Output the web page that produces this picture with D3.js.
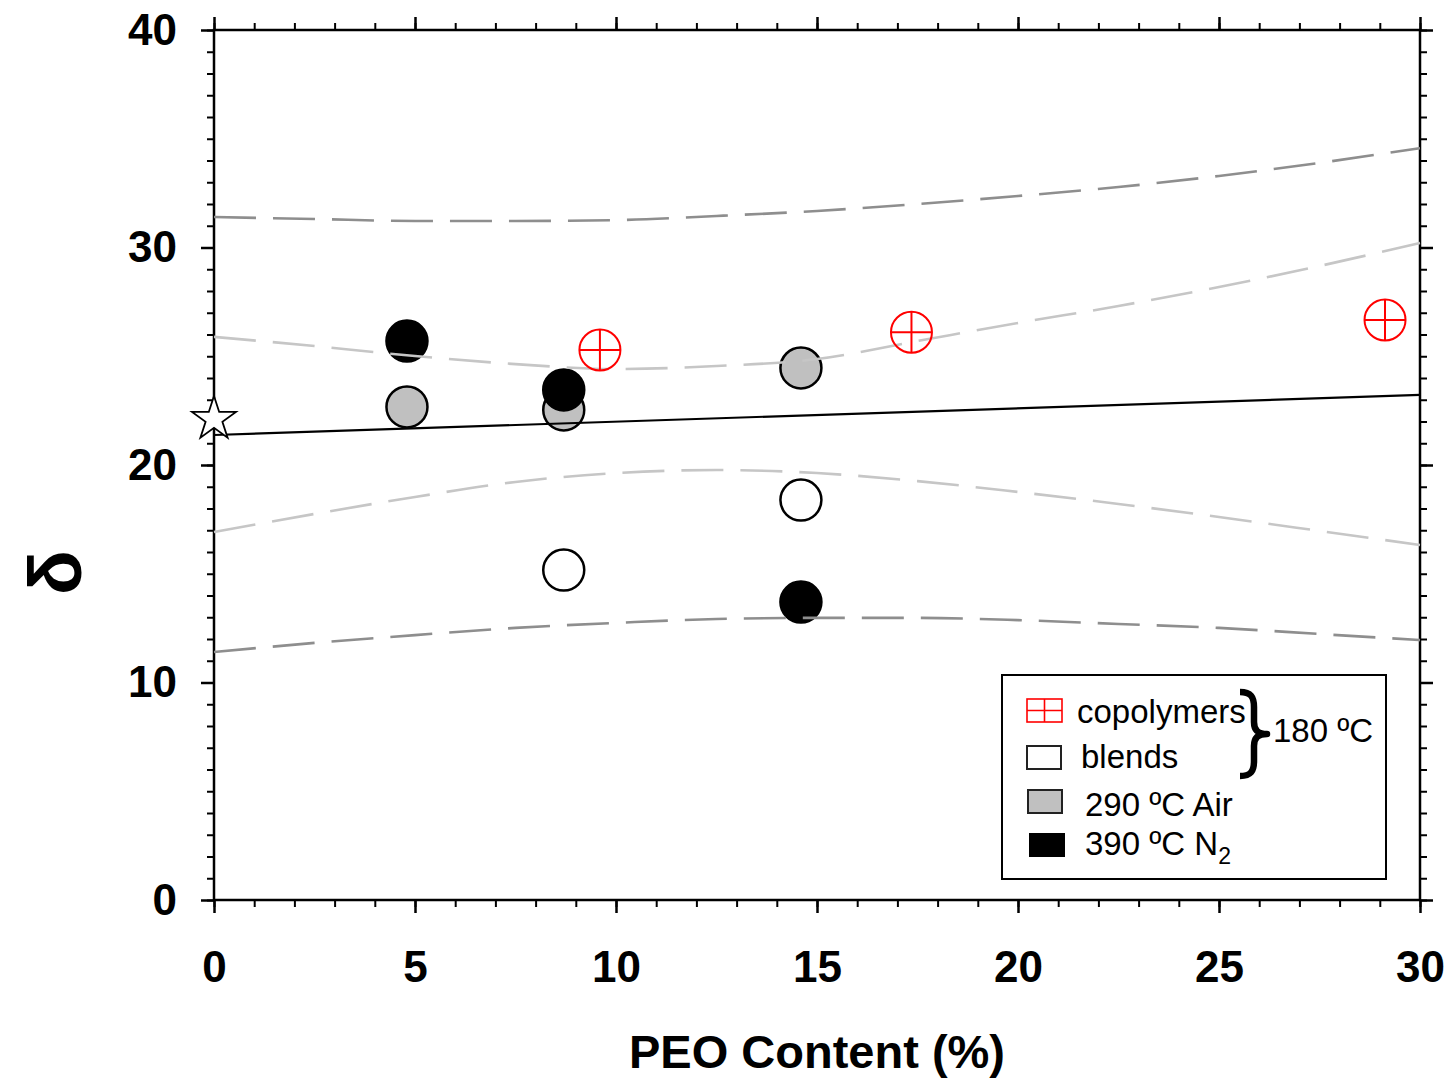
<!DOCTYPE html>
<html>
<head>
<meta charset="utf-8">
<script src="https://cdn.jsdelivr.net/npm/d3@7"></script>
<style>
  html, body { margin: 0; padding: 0; background: #fff; }
  svg { display: block; font-family: "Liberation Sans", Arial, sans-serif; }
</style>
</head>
<body>
<svg id="chart" width="1451" height="1078"></svg>
<script>
// Measured series (x = PEO content %, y = value)
const copolymers = [[9.6, 25.29], [17.35, 26.1], [29.13, 26.67]];
const blends = [[8.7, 15.17], [14.6, 18.39]];
const air290 = [[4.8, 22.67], [8.7, 22.53], [14.6, 24.46]];
const n2390 = [[4.8, 25.7], [8.7, 23.45], [14.6, 13.7]];
const neat = [[0, 22.25]];

// Linear fit and its bands
const fitLine = [[0, 21.38], [30, 23.22]];
const bandX = [0, 2.5, 5, 7.5, 10, 12.5, 15, 17.5, 20, 22.5, 25, 27.5, 30];
const confUpper = [25.89, 25.47, 25.01, 24.64, 24.41, 24.55, 24.87, 25.70, 26.53, 27.31, 28.18, 29.15, 30.21];
const confLower = [16.92, 17.75, 18.53, 19.22, 19.63, 19.77, 19.63, 19.26, 18.76, 18.21, 17.61, 16.97, 16.32];
const predUpper = [31.40, 31.31, 31.22, 31.22, 31.26, 31.45, 31.68, 32.00, 32.37, 32.78, 33.29, 33.89, 34.57];
const predLower = [11.40, 11.82, 12.18, 12.51, 12.74, 12.92, 12.97, 12.97, 12.87, 12.69, 12.51, 12.23, 11.95];

// Axis ticks
const xMajor = [0, 5, 10, 15, 20, 25, 30];
const xMinor = d3.range(0, 31, 1);
const yMajor = [0, 10, 20, 30, 40];
const yMinor = d3.range(0, 41, 1);

const svg = d3.select("#chart");
const x = d3.scaleLinear().domain([0, 30]).range([214, 1420]);
const y = d3.scaleLinear().domain([0, 40]).range([900, 30]);

// Axes: minor ticks, then major ticks with labels
function styleAxis(g, w) {
  g.selectAll(".domain").remove();
  g.selectAll(".tick line").attr("stroke", "#000").attr("stroke-width", w);
}
const labelFont = g => g.selectAll("text")
  .attr("fill", "#000").style("font-size", "44px").style("font-weight", "bold")
  .style("font-family", "'Liberation Sans', Arial, sans-serif");

svg.append("g").attr("transform", "translate(0,900)")
  .call(d3.axisBottom(x).tickValues(xMinor).tickSize(7).tickFormat(""))
  .call(g => styleAxis(g, 2));
svg.append("g").attr("transform", "translate(0,900)")
  .call(d3.axisBottom(x).tickValues(xMajor).tickSize(13).tickPadding(38).tickFormat(d3.format("d")))
  .call(g => styleAxis(g, 2.5)).call(labelFont);
svg.append("g").attr("transform", "translate(0,30)")
  .call(d3.axisTop(x).tickValues(xMinor).tickSize(7).tickFormat(""))
  .call(g => styleAxis(g, 2));
svg.append("g").attr("transform", "translate(0,30)")
  .call(d3.axisTop(x).tickValues(xMajor).tickSize(13).tickFormat(""))
  .call(g => styleAxis(g, 2.5));

svg.append("g").attr("transform", "translate(214,0)")
  .call(d3.axisLeft(y).tickValues(yMinor).tickSize(7).tickFormat(""))
  .call(g => styleAxis(g, 2));
svg.append("g").attr("transform", "translate(214,0)")
  .call(d3.axisLeft(y).tickValues(yMajor).tickSize(13).tickPadding(24).tickFormat(d3.format("d")))
  .call(g => styleAxis(g, 2.5)).call(labelFont);
svg.append("g").attr("transform", "translate(1420,0)")
  .call(d3.axisRight(y).tickValues(yMinor).tickSize(7).tickFormat(""))
  .call(g => styleAxis(g, 2));
svg.append("g").attr("transform", "translate(1420,0)")
  .call(d3.axisRight(y).tickValues(yMajor).tickSize(13).tickFormat(""))
  .call(g => styleAxis(g, 2.5));

// Plot frame
svg.append("rect")
  .attr("x", x(0)).attr("y", y(40))
  .attr("width", x(30) - x(0)).attr("height", y(0) - y(40))
  .attr("fill", "none").attr("stroke", "#000").attr("stroke-width", 2.5);

// Axis titles
svg.append("text")
  .attr("x", 817).attr("y", 1068).attr("text-anchor", "middle")
  .style("font-size", "47px").style("font-weight", "bold")
  .text("PEO Content (%)");

// Y title sits against the left edge and is cut by it
svg.append("defs").append("clipPath").attr("id", "ylabClip")
  .append("rect").attr("x", 18).attr("y", 0).attr("width", 200).attr("height", 1078);
svg.append("g").attr("clip-path", "url(#ylabClip)")
  .append("text")
  .attr("transform", "translate(81,595) rotate(-90)")
  .style("font-size", "74px").style("font-weight", "bold")
  .text("δ");

// Markers
const line = d3.line().x(d => x(d[0])).y(d => y(d[1]));
const curve = d3.line().x(d => x(d[0])).y(d => y(d[1])).curve(d3.curveMonotoneX);
const R = 20.5;

function circles(data, fill) {
  svg.append("g").selectAll("circle").data(data).join("circle")
    .attr("cx", d => x(d[0])).attr("cy", d => y(d[1])).attr("r", R)
    .attr("fill", fill).attr("stroke", "#000").attr("stroke-width", 2.5);
}
circles(air290, "#c0c0c0");
circles(blends, "#ffffff");
circles(n2390, "#000000");

// Bands
function band(vals, color) {
  svg.append("path")
    .datum(bandX.map((v, i) => [v, vals[i]]))
    .attr("d", curve).attr("fill", "none")
    .attr("stroke", color).attr("stroke-width", 2.6)
    .attr("stroke-dasharray", "42,17");
}
band(predUpper, "#8e8e8e");
band(predLower, "#8e8e8e");
band(confUpper, "#c6c6c6");
band(confLower, "#c6c6c6");

// Fit line
svg.append("path").datum(fitLine).attr("d", line)
  .attr("fill", "none").attr("stroke", "#000").attr("stroke-width", 2.2);

// Copolymer markers (circle with cross)
const cg = svg.append("g").selectAll("g").data(copolymers).join("g")
  .attr("transform", d => `translate(${x(d[0])},${y(d[1])})`);
cg.append("circle").attr("r", R).attr("fill", "none").attr("stroke", "#ff0000").attr("stroke-width", 2);
cg.append("line").attr("x1", -R).attr("x2", R).attr("stroke", "#ff0000").attr("stroke-width", 2);
cg.append("line").attr("y1", -R).attr("y2", R).attr("stroke", "#ff0000").attr("stroke-width", 2);

// Neat polymer (star)
const star = d3.symbol().type(d3.symbolStar).size(600);
svg.append("g").selectAll("path").data(neat).join("path")
  .attr("transform", d => `translate(${x(d[0])},${y(d[1]) + 3})`)
  .attr("d", star).attr("fill", "#fff").attr("stroke", "#000").attr("stroke-width", 1.8);

// Legend
const lg = svg.append("g");
lg.append("rect").attr("x", 1002).attr("y", 675).attr("width", 384).attr("height", 204)
  .attr("fill", "#fff").attr("stroke", "#000").attr("stroke-width", 2);

lg.append("rect").attr("x", 1027).attr("y", 699).attr("width", 35).attr("height", 23)
  .attr("fill", "#fff").attr("stroke", "#ff0000").attr("stroke-width", 1.6);
lg.append("line").attr("x1", 1044.5).attr("x2", 1044.5).attr("y1", 699).attr("y2", 722)
  .attr("stroke", "#ff0000").attr("stroke-width", 1.6);
lg.append("line").attr("x1", 1027).attr("x2", 1062).attr("y1", 710.5).attr("y2", 710.5)
  .attr("stroke", "#ff0000").attr("stroke-width", 1.6);
lg.append("rect").attr("x", 1027).attr("y", 746).attr("width", 34).attr("height", 23)
  .attr("fill", "#fff").attr("stroke", "#222").attr("stroke-width", 2);
lg.append("rect").attr("x", 1028).attr("y", 790).attr("width", 34).attr("height", 23)
  .attr("fill", "#c0c0c0").attr("stroke", "#222").attr("stroke-width", 2);
lg.append("rect").attr("x", 1029).attr("y", 833).attr("width", 36).attr("height", 24)
  .attr("fill", "#000");

const lt = (tx, ty, s) => lg.append("text").attr("x", tx).attr("y", ty)
  .style("font-size", "33px").text(s);
lt(1077, 723, "copolymers");
lt(1081, 768, "blends");
lt(1085, 816, "290 ºC Air");
const n2 = lt(1085, 855, "390 ºC N");
n2.append("tspan").attr("dy", 9).style("font-size", "23px").text("2");
lt(1273, 742, "180 ºC");

// Curly brace grouping the two 180 ºC entries
lg.append("path")
  .attr("d", "M1240,692 C1251,692 1254,697 1254,707 L1254,722 C1254,730 1258,734 1267,734 " +
             "C1258,734 1254,738 1254,746 L1254,761 C1254,771 1251,776 1240,776")
  .attr("fill", "none").attr("stroke", "#000").attr("stroke-width", 6.5)
  .attr("stroke-linejoin", "round");
</script>
</body>
</html>
